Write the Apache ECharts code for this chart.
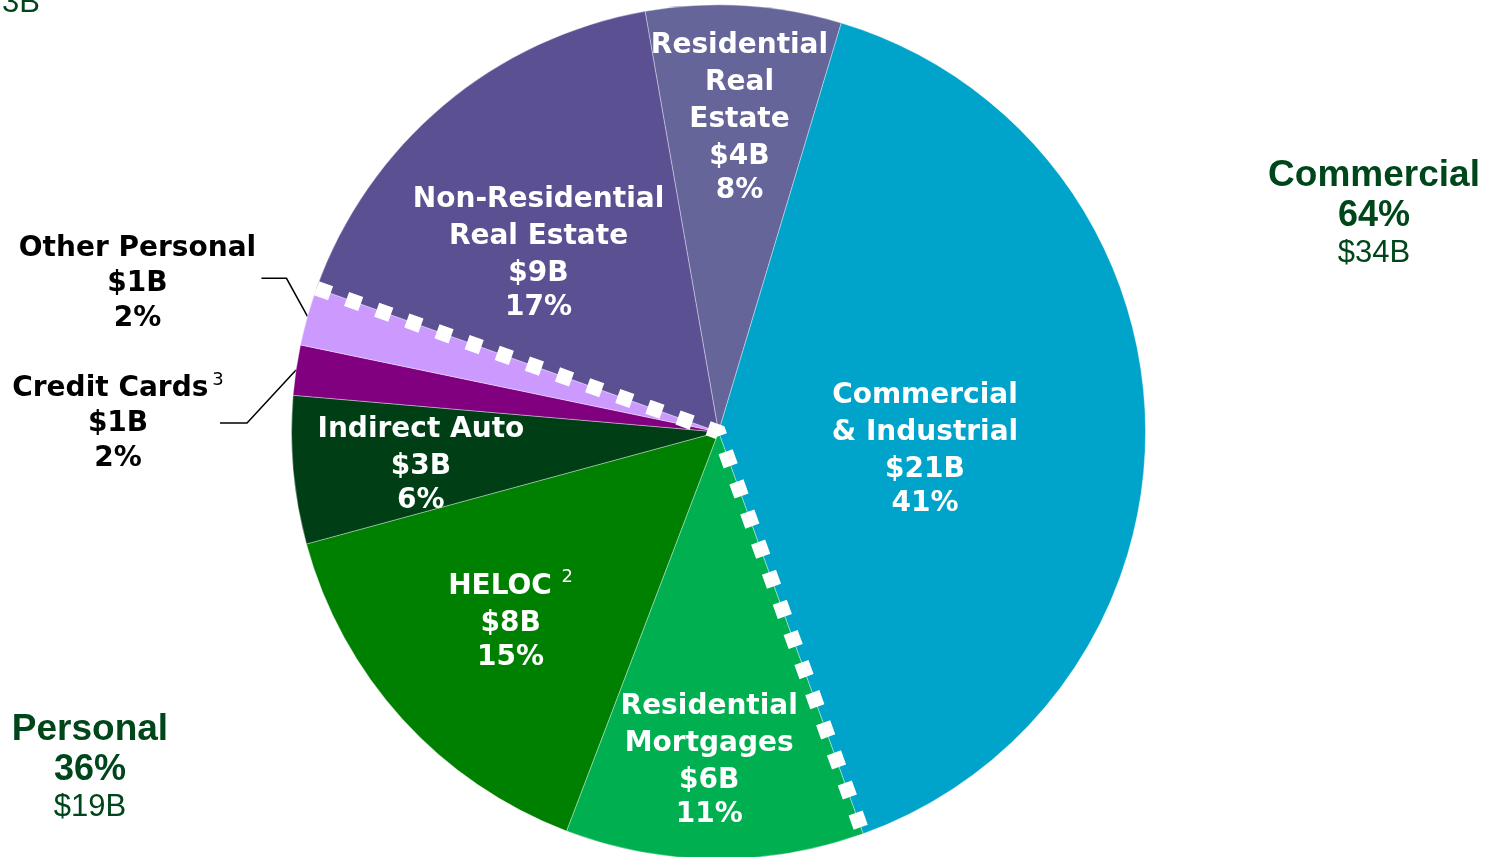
<!DOCTYPE html>
<html>
<head>
<meta charset="utf-8">
<title>Loan portfolio</title>
<script src="https://cdn.jsdelivr.net/npm/echarts@6/dist/echarts.min.js"></script>
<style>
html, body { margin: 0; padding: 0; background: #fff; }
#chart { width: 1494px; height: 857px; }
</style>
</head>
<body>
<div id="chart"></div>
<script>
// slices, clockwise from the top
var names = ['Residential\nReal\nEstate', 'Commercial\n& Industrial', 'Residential\nMortgages', 'HELOC',
  'Indirect Auto', 'Credit Cards', 'Other Personal', 'Non-Residential\nReal Estate'];
var shares = [7.4, 39.9, 11.3, 15.0, 5.6, 1.9, 2.2, 16.8];
var amounts = ['$4B', '$21B', '$6B', '$8B', '$3B', '$1B', '$1B', '$9B'];
var pcts = ['8%', '41%', '11%', '15%', '6%', '2%', '2%', '17%'];
var notes = ['', '', '', ' 2', '', '3', '', ''];
var colors = ['#65659a', '#00a3c9', '#00b050', '#008000', '#003f16', '#800080', '#cc99ff', '#5b5192'];

// group totals
var groupNames = ['Commercial', 'Personal'];
var groupPcts = ['64%', '36%'];
var groupAmounts = ['$34B', '$19B'];
var personalFirst = 2, personalLast = 6;

// layout
var CX = 718.5, CY = 432, R = 427, START = 99.9;
// inside labels: distance from centre (share of radius) and turn off the slice middle (deg)
var labelRadius = [0.74, 0.485, 0.766, 0.657, 0.701, 0, 0, 0.596];
var labelTurn = [0.4, 6.1, 1.1, 0, -1.0, 0, 0, -4.9];
// callout labels: bend offset from slice edge, horizontal run, text centre offset from line end
var callouts = {
  5: { bend: [-49, 53], run: 27, text: [-102, 1] },
  6: { bend: [-21, -38], run: 25, text: [-124, 5] }
};

var total = shares.reduce(function (a, b) { return a + b; }, 0);
var mids = [];
var acc = 0;
shares.forEach(function (v) {
  mids.push((90 - START) + (acc + v / 2) / total * 360);
  acc += v;
});
function polarPt(deg, r) {
  var a = deg * Math.PI / 180;
  return [CX + r * Math.sin(a), CY - r * Math.cos(a)];
}

// cumulative values where personal loans start and end
var cut1 = 0, cut2 = 0;
for (var i = 0; i < shares.length; i++) {
  if (i < personalFirst) cut1 += shares[i];
  if (i <= personalLast) cut2 += shares[i];
}

var font = 'DejaVu Sans';
var rich = {
  n: { fontFamily: font, fontWeight: 'bold', fontSize: 28, lineHeight: 37 },
  p: { fontFamily: font, fontWeight: 'bold', fontSize: 28, lineHeight: 31 },
  o: { fontFamily: font, fontWeight: 'bold', fontSize: 28, lineHeight: 35 },
  sup: { fontFamily: font, fontSize: 18, lineHeight: 18, verticalAlign: 'top', padding: [0, 0, 0, 4] }
};

var chart = echarts.init(document.getElementById('chart'));

var groupText = function (x, top, k) {
  return [
    { type: 'text', style: { text: groupNames[k], x: x, y: top, fill: '#00461b', font: 'bold 37px "Liberation Sans"', align: 'center', textAlign: 'center', verticalAlign: 'middle', textVerticalAlign: 'middle' } },
    { type: 'text', style: { text: groupPcts[k], x: x, y: top + 40, fill: '#00461b', font: 'bold 36px "Liberation Sans"', align: 'center', textAlign: 'center', verticalAlign: 'middle', textVerticalAlign: 'middle' } },
    { type: 'text', style: { text: groupAmounts[k], x: x, y: top + 77, fill: '#00461b', font: '31px "Liberation Sans"', align: 'center', textAlign: 'center', verticalAlign: 'middle', textVerticalAlign: 'middle' } }
  ];
};

chart.setOption({
  animation: false,
  backgroundColor: '#fff',
  polar: { center: [CX, CY], radius: R },
  angleAxis: { type: 'value', min: 0, max: total, startAngle: START, clockwise: true, show: false },
  radiusAxis: { type: 'value', min: 0, max: 1, show: false },
  graphic: groupText(1374, 176, 0).concat(groupText(90, 730, 1)).concat([
    { type: 'text', style: { text: '3B', x: 2, y: 3, fill: '#00461b', font: '31px "Liberation Sans"', verticalAlign: 'middle', textVerticalAlign: 'middle' } }
  ]),
  series: [
    {
      type: 'pie',
      center: [CX, CY],
      radius: R,
      startAngle: START,
      clockwise: true,
      avoidLabelOverlap: false,
      silent: true,
      itemStyle: { borderColor: 'rgba(255,255,255,0.45)', borderWidth: 0.8 },
      label: {
        show: true,
        position: 'inside',
        color: '#fff',
        formatter: function (p) {
          var i = p.dataIndex;
          var st = callouts[i] ? 'o' : 'n';
          var lines = names[i].split('\n').map(function (s) { return '{' + st + '|' + s + '}'; });
          if (notes[i]) lines[lines.length - 1] += '{sup|' + notes[i] + '}';
          lines.push('{' + st + '|' + amounts[i] + '}');
          lines.push('{' + (callouts[i] ? 'o' : 'p') + '|' + pcts[i] + '}');
          return lines.join('\n');
        },
        rich: rich
      },
      labelLine: { show: false },
      labelLayout: function (p) {
        var i = p.dataIndex;
        var c = callouts[i];
        if (!c) {
          var pt = polarPt(mids[i] + labelTurn[i], R * labelRadius[i]);
          return { x: pt[0], y: pt[1], align: 'center', verticalAlign: 'middle' };
        }
        var e = polarPt(mids[i], R);
        var b = [e[0] + c.bend[0], e[1] + c.bend[1]];
        var t = [b[0] - c.run, b[1]];
        return {
          x: t[0] + c.text[0], y: t[1] + c.text[1],
          align: 'center', verticalAlign: 'middle',
          labelLinePoints: [e, b, t]
        };
      },
      data: shares.map(function (v, i) {
        var d = { value: v, name: names[i], itemStyle: { color: colors[i] } };
        if (callouts[i]) {
          d.label = { position: 'outside', color: '#000' };
          d.labelLine = { show: true, length: 10, length2: 10, lineStyle: { color: '#000', width: 1.5 } };
        }
        return d;
      })
    },
    {
      // dotted divider between commercial and personal loans
      type: 'line',
      coordinateSystem: 'polar',
      silent: true,
      z: 5,
      symbol: 'none',
      lineStyle: { color: '#fff', width: 15, type: [15, 17], cap: 'butt', join: 'miter' },
      data: [[1, cut2], [0, cut2], [0, cut1], [1, cut1]]
    }
  ]
});
</script>
</body>
</html>
